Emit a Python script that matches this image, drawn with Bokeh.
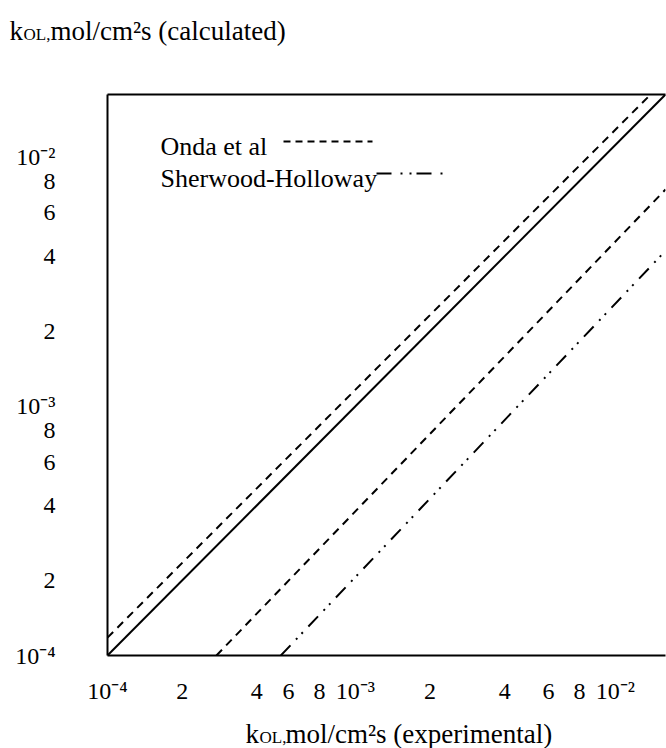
from bokeh.plotting import figure
from bokeh.layouts import column
from bokeh.models import FixedTicker, LogAxis, Label, Arrow
from bokeh.embed import file_html
from bokeh.resources import INLINE

# Shared axis span for experimental (x) and calculated (y) k_OL, mol/cm2 s
k_min, k_max = 1.0e-4, 1.78e-2

tick_values = [1e-4, 2e-4, 4e-4, 6e-4, 8e-4, 1e-3, 2e-3, 4e-3, 6e-3, 8e-3, 1e-2]
tick_labels = ["10⁻⁴", "2", "4", "6", "8", "10⁻³", "2", "4", "6", "8", "10⁻²"]

# Parity line: calculated = experimental
parity_exp = [1.0e-4, 1.78e-2]
parity_calc = [1.0e-4, 1.78e-2]

# Onda et al. correlation bounds
onda_upper_exp = [1.0e-4, 1.55e-2]
onda_upper_calc = [1.18e-4, 1.78e-2]
onda_lower_exp = [2.75e-4, 1.78e-2]
onda_lower_calc = [1.0e-4, 7.4e-3]

# Sherwood-Holloway correlation
sh_exp = [5.0e-4, 1.78e-2]
sh_calc = [1.0e-4, 4.2e-3]

SERIF = "Liberation Serif"
DASH_ONDA = "8 6"
DASH_SH = "14 8 2 6 2 8"
W, H_MAIN, H_TITLE = 666, 708, 40

p = figure(width=W, height=H_MAIN,
           x_axis_type="log", y_axis_type="log",
           x_range=(k_min, k_max), y_range=(k_min, k_max),
           output_backend="svg", toolbar_location=None,
           min_border_left=107, min_border_right=1,
           min_border_top=94, min_border_bottom=53)
p.outline_line_color = None
p.grid.visible = False
p.background_fill_color = "white"
p.border_fill_color = "white"

for ax in (p.xaxis[0], p.yaxis[0]):
    ax.ticker = FixedTicker(ticks=tick_values, minor_ticks=[])
    ax.major_tick_line_color = None
    ax.minor_tick_line_color = None
    ax.major_tick_in = 0
    ax.major_tick_out = 0
    ax.axis_line_color = "black"
    ax.axis_line_width = 2
    ax.major_label_text_font = SERIF
    ax.major_label_text_font_size = "24px"
    ax.major_label_text_color = "black"

p.yaxis.major_label_overrides = dict(zip(tick_values, tick_labels))
p.yaxis.major_label_standoff = 52

# Bottom labels are centred on their ticks; an em space nudges the crowded
# 6-8-10 groups apart so neighbouring labels do not run together.
EM = "\u2003"
x_overrides = dict(zip(tick_values, tick_labels))
x_overrides[6e-4] = x_overrides[6e-4] + EM
x_overrides[8e-4] = x_overrides[8e-4] + EM
x_overrides[1e-2] = EM + x_overrides[1e-2]
p.xaxis.major_label_overrides = x_overrides
p.xaxis.major_label_standoff = 22

# Top border of the frame
top_border = LogAxis(ticker=FixedTicker(ticks=[], minor_ticks=[]),
                     axis_line_color="black", axis_line_width=2,
                     major_tick_line_color=None, minor_tick_line_color=None,
                     major_label_text_font_size="0px")
p.add_layout(top_border, "above")


def canvas_text(fig, x, y, text, size, place="center"):
    fig.add_layout(Label(x=x, y=y, x_units="canvas", y_units="canvas", text=text,
                         text_font=SERIF, text_font_size=size, text_color="black",
                         text_baseline="alphabetic", text_align="left"), place)


p.line(parity_exp, parity_calc, line_color="black", line_width=2)
p.line(onda_upper_exp, onda_upper_calc, line_color="black", line_width=2,
       line_dash=DASH_ONDA)
p.line(onda_lower_exp, onda_lower_calc, line_color="black", line_width=2,
       line_dash=DASH_ONDA)
p.line(sh_exp, sh_calc, line_color="black", line_width=2, line_dash=DASH_SH)

# y-axis title with the OL subscript, in the panel above the frame
canvas_text(p, 9, 30, "k", "27px", "above")
canvas_text(p, 23, 34, "OL,", "17px", "above")
canvas_text(p, 50, 30, "mol/cm²s (calculated)", "27px", "above")

# Legend: names followed by line samples
canvas_text(p, 160, 146, "Onda et al", "26px")
canvas_text(p, 160, 178, "Sherwood-Holloway", "26px")
p.add_layout(Arrow(end=None, x_start=283, y_start=141, x_end=372, y_end=141,
                   start_units="canvas", end_units="canvas",
                   line_color="black", line_width=2, line_dash="7 5"))
p.add_layout(Arrow(end=None, x_start=376, y_start=173, x_end=442, y_end=173,
                   start_units="canvas", end_units="canvas",
                   line_color="black", line_width=2, line_dash="15 9 2 7 2 5"))

# x-axis title strip under the chart
t = figure(width=W, height=H_TITLE, output_backend="svg", toolbar_location=None,
           x_axis_location=None, y_axis_location=None, min_border=0)
t.outline_line_color = None
t.grid.visible = False
t.background_fill_color = "white"
t.border_fill_color = "white"
canvas_text(t, 245, 25, "k", "27px")
canvas_text(t, 259, 29, "OL,", "17px")
canvas_text(t, 285, 25, "mol/cm²s  (experimental)", "27px")

layout = column(p, t, spacing=0)
open("out.html", "w").write(file_html(layout, INLINE))
